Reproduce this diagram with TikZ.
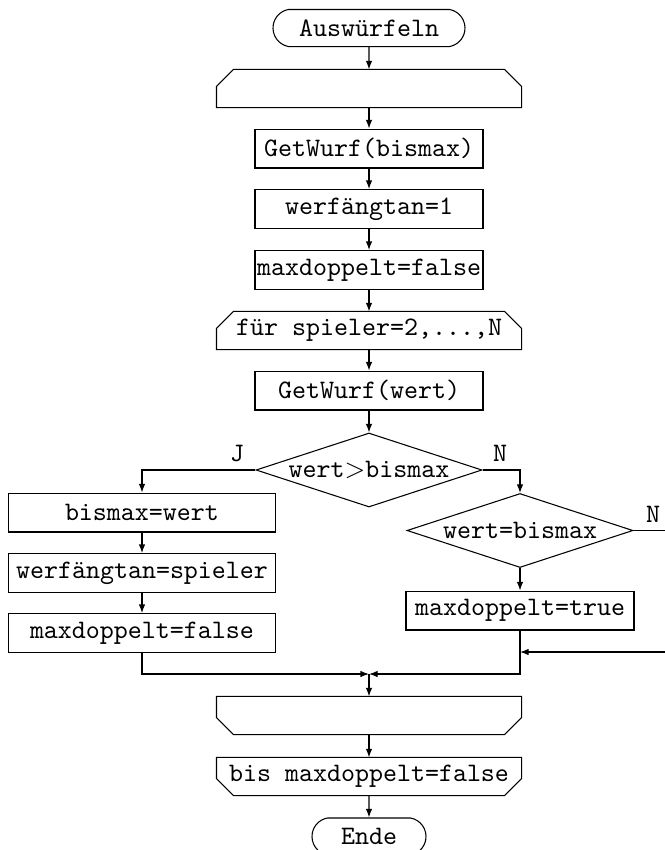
\documentclass[tikz,border=0pt]{standalone}
\usepackage{fontspec}
\usetikzlibrary{arrows.meta,calc,shapes.geometric,shapes.misc}

\begin{document}
\begin{tikzpicture}[x=0.375pt,y=-0.375pt,font=\ttfamily,
    arr/.style={-{Latex[length=3.2pt,width=2.4pt]}},
    box/.style={draw,rectangle,inner sep=0pt,minimum width=85.5pt,minimum height=14.6pt},
    wbox/.style={box,minimum width=100.1pt},
    loopbox/.style={rectangle,inner sep=0pt,minimum width=114pt,minimum height=13.9pt},
    term/.style={draw,rounded rectangle,rounded rectangle arc length=160,inner sep=0pt,minimum height=13.9pt},
    dec/.style={draw,diamond,aspect=3,inner sep=0pt,minimum width=84.75pt,minimum height=27.75pt}]

    \useasboundingbox (0,0) rectangle (665,850);
    \clip (0,0) rectangle (665,850);

    % main column
    \node[term,minimum width=72pt] (start) at (369,28) {Auswürfeln};
    \node[loopbox] (lpA) at (369,88.5) {};
    \node[box] (gwb) at (369,148.5) {GetWurf(bismax)};
    \node[box] (wf1) at (369,209) {werfängtan=1};
    \node[box] (mdf) at (369,270) {maxdoppelt=false};
    \node[loopbox] (fuer) at (369,330.5) {für spieler=2,...,N};
    \node[box] (gww) at (369,390.5) {GetWurf(wert)};
    \node[dec] (dec1) at (369,470) {wert$>$bismax};

    % J branch
    \node[wbox] (bmw) at (142,512.5) {bismax=wert};
    \node[wbox] (wfs) at (142,573) {werfängtan=spieler};
    \node[wbox] (mdfL) at (142,633) {maxdoppelt=false};

    % N branch
    \node[dec] (dec2) at (520,530.5) {wert=bismax};
    \node[box] (mdt) at (520,610.5) {maxdoppelt=true};
    \coordinate (outN) at (665,530.5);
    \coordinate (backR) at (665,652);
    \coordinate (join) at (369,674);

    % loop foot
    \node[loopbox] (lpB) at (369,715.5) {};
    \node[loopbox] (bis) at (369,776.5) {bis maxdoppelt=false};
    \node[term,minimum width=42.75pt] (ende) at (369,836.5) {Ende};

    % chamfered loop boxes
    \foreach \n in {lpA,fuer}
        \draw (\n.south west) -- ($(\n.north west)+(0,17)$) -- ($(\n.north west)+(17,0)$)
            -- ($(\n.north east)+(-17,0)$) -- ($(\n.north east)+(0,17)$) -- (\n.south east) -- cycle;
    \foreach \n in {lpB,bis}
        \draw (\n.north west) -- ($(\n.south west)+(0,-17)$) -- ($(\n.south west)+(17,0)$)
            -- ($(\n.south east)+(-17,0)$) -- ($(\n.south east)+(0,-17)$) -- (\n.north east) -- cycle;

    % connectors
    \draw[arr] (start) -- (lpA);
    \draw[arr] (lpA) -- (gwb);
    \draw[arr] (gwb) -- (wf1);
    \draw[arr] (wf1) -- (mdf);
    \draw[arr] (mdf) -- (fuer);
    \draw[arr] (fuer) -- (gww);
    \draw[arr] (gww) -- (dec1);
    \draw[arr] (dec1.west) -| (bmw);
    \draw[arr] (bmw) -- (wfs);
    \draw[arr] (wfs) -- (mdfL);
    \draw[arr] (dec1.east) -| (dec2);
    \draw[arr] (dec2) -- (mdt);
    \draw (dec2.east) -- (outN);
    \draw[arr] (backR) -- (backR -| mdt.south);
    \draw[arr] (mdt) |- (join);
    \draw[arr] (mdfL) |- (join);
    \draw[arr] (join) -- (lpB);
    \draw[arr] (lpB) -- (bis);
    \draw[arr] (bis) -- (ende);

    % labels
    \node (lblJ) at (237,453) {J};
    \node (lblN) at (500,453) {N};
    \node (lblNb) at (653,514) {N};

\end{tikzpicture}
\end{document}
